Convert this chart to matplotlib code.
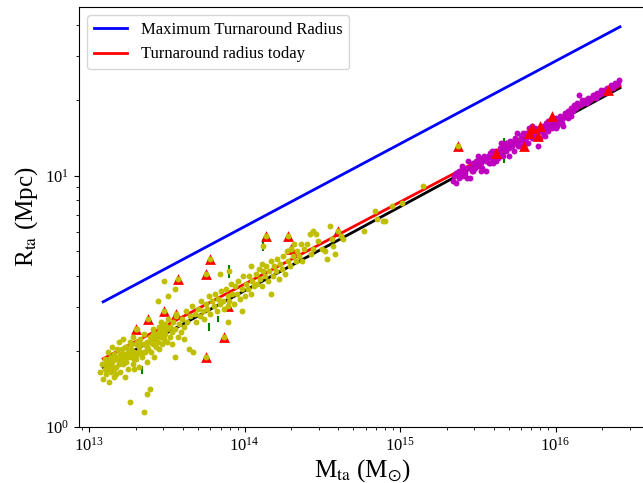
import numpy as np
import matplotlib
matplotlib.use("Agg")
from matplotlib import pyplot as plt

plt.rcParams["font.family"] = "serif"
plt.rcParams["font.serif"] = ["Liberation Serif", "DejaVu Serif"]
plt.rcParams["mathtext.fontset"] = "stix"

# model lines (straight in log-log, so two end points each)
line_mass = [1.23e13, 2.6e16]
r_max = [3.15, 39.2]
r_today = [1.87, 22.8]
r_fit = [1.73, 22.4]

# groups (yellow): log10 M_ta, log10 R_ta
group_logm = [
    13.07, 13.08, 13.09, 13.10, 13.10, 13.11, 13.12, 13.12, 13.13, 13.13, 13.14, 13.14,
    13.15, 13.15, 13.16, 13.16, 13.17, 13.17, 13.18, 13.18, 13.19, 13.19, 13.20, 13.20,
    13.21, 13.21, 13.22, 13.22, 13.23, 13.23, 13.24, 13.24, 13.25, 13.25, 13.26, 13.26,
    13.27, 13.27, 13.28, 13.28, 13.29, 13.29, 13.30, 13.30, 13.31, 13.31, 13.32, 13.32,
    13.33, 13.33, 13.35, 13.34, 13.35, 13.35, 13.37, 13.36, 13.37, 13.37, 13.38, 13.39,
    13.39,
    13.11, 13.13, 13.15, 13.17, 13.19, 13.21, 13.23, 13.25, 13.27, 13.29, 13.31, 13.33,
    13.35, 13.37, 13.39, 13.41, 13.43, 13.45, 13.47, 13.49, 13.12, 13.16, 13.20, 13.24,
    13.28, 13.32, 13.36, 13.40, 13.44, 13.48,
    13.40, 13.40, 13.41, 13.41, 13.42, 13.42, 13.43, 13.43, 13.44, 13.44, 13.45, 13.45,
    13.46, 13.46, 13.47, 13.47, 13.48, 13.48, 13.49, 13.49, 13.50, 13.50, 13.51, 13.51,
    13.52, 13.52, 13.53, 13.53, 13.54, 13.55, 13.55, 13.55, 13.56, 13.57, 13.58, 13.59,
    13.60, 13.61, 13.62, 13.63, 13.64, 13.65, 13.66, 13.67, 13.68, 13.69, 13.70, 13.61,
    13.71, 13.72, 13.73, 13.74, 13.75, 13.75, 13.76, 13.77, 13.78, 13.78, 13.79, 13.80,
    13.81, 13.82, 13.83, 13.84, 13.84, 13.85, 13.86, 13.87, 13.87, 13.88, 13.89, 13.89,
    13.90, 13.91, 13.92, 13.93, 13.94, 13.95, 13.96, 13.97, 13.98, 13.98, 13.99, 14.00,
    13.90, 14.01, 14.02, 14.03, 14.04, 14.04, 14.05, 14.06, 14.07, 14.08, 14.09, 14.10,
    14.11, 14.11, 14.12, 14.12, 14.13, 14.14, 14.14, 14.15, 14.16, 14.17, 14.17, 14.18,
    14.19, 14.20, 14.21, 14.22, 14.23, 14.24, 14.25, 14.26, 14.27, 14.28, 14.28, 14.29,
    14.30, 14.31, 14.32, 14.33, 14.34, 14.35, 14.36, 14.37, 14.38,
    14.42, 14.44, 14.46, 14.40, 14.43, 14.44, 14.47, 14.50, 14.52, 14.53, 14.55, 14.56,
    14.57, 14.58, 14.60, 14.62, 14.63, 14.77, 14.84, 14.85, 14.89, 14.90, 14.95, 15.01,
    15.15, 15.37, 13.30, 13.38, 13.56, 13.57, 13.89, 14.30, 13.48, 13.75,
]
group_logr = [
    0.22, 0.25, 0.19, 0.27, 0.23, 0.21, 0.26, 0.30, 0.24, 0.18, 0.28, 0.22,
    0.32, 0.26, 0.20, 0.29, 0.24, 0.21, 0.31, 0.27, 0.25, 0.34, 0.29, 0.22,
    0.27, 0.31, 0.25, 0.35, 0.28, 0.20, 0.32, 0.26, 0.30, 0.23, 0.10, 0.34,
    0.28, 0.31, 0.25, 0.36, 0.23, 0.30, 0.33, 0.27, 0.39, 0.29, 0.32, 0.24,
    0.35, 0.30, 0.06, 0.28, 0.33, 0.37, 0.13, 0.30, 0.26, 0.34, 0.31, 0.15,
    0.36,
    0.25, 0.27, 0.24, 0.27, 0.28, 0.29, 0.32, 0.28, 0.33, 0.27, 0.34, 0.33,
    0.30, 0.32, 0.34, 0.37, 0.35, 0.38, 0.40, 0.39, 0.23, 0.23, 0.26, 0.29,
    0.29, 0.30, 0.33, 0.34, 0.37, 0.38,
    0.36, 0.30, 0.33, 0.39, 0.35, 0.28, 0.37, 0.32, 0.50, 0.34, 0.40, 0.31,
    0.36, 0.42, 0.33, 0.38, 0.58, 0.35, 0.41, 0.37, 0.34, 0.39, 0.52, 0.43,
    0.36, 0.40, 0.38, 0.33, 0.42, 0.55, 0.28, 0.39, 0.44, 0.36, 0.41, 0.38,
    0.43, 0.40, 0.46, 0.42, 0.31, 0.44, 0.48, 0.30, 0.45, 0.42, 0.47, 0.35,
    0.44, 0.50, 0.46, 0.43, 0.61, 0.49, 0.47, 0.52, 0.67, 0.45, 0.50, 0.48,
    0.53, 0.46, 0.51, 0.61, 0.49, 0.54, 0.50, 0.36, 0.47, 0.55, 0.42, 0.52,
    0.50, 0.57, 0.53, 0.49, 0.56, 0.53, 0.58, 0.51, 0.46, 0.55, 0.60, 0.52,
    0.62, 0.57, 0.55, 0.60, 0.64, 0.53, 0.58, 0.56, 0.61, 0.57, 0.63, 0.59,
    0.65, 0.56, 0.62, 0.72, 0.60, 0.76, 0.64, 0.58, 0.62, 0.53, 0.66, 0.60,
    0.64, 0.62, 0.67, 0.59, 0.65, 0.63, 0.68, 0.61, 0.70, 0.76, 0.66, 0.64,
    0.71, 0.68, 0.73, 0.66, 0.70, 0.68, 0.73, 0.66, 0.71,
    0.77, 0.78, 0.77, 0.73, 0.69, 0.71, 0.74, 0.71, 0.70, 0.67, 0.80, 0.75,
    0.72, 0.69, 0.78, 0.76, 0.75, 0.78, 0.86, 0.83, 0.82, 0.82, 0.88, 0.89,
    0.96, 1.12, 0.39, 0.43, 0.45, 0.59, 0.48, 0.71, 0.46, 0.28,
]

# clusters (magenta)
cluster_logm = [
    15.34, 15.35, 15.36, 15.37, 15.38, 15.39, 15.40, 15.41, 15.42, 15.43, 15.44, 15.45,
    15.46, 15.47, 15.48, 15.49, 15.50, 15.51, 15.52, 15.53, 15.54, 15.55, 15.56, 15.57,
    15.58, 15.59, 15.60, 15.61, 15.62, 15.63, 15.64, 15.65, 15.66, 15.67, 15.68, 15.69,
    15.70, 15.71, 15.72, 15.73, 15.74, 15.75, 15.76, 15.77, 15.78, 15.79, 15.80, 15.81,
    15.82, 15.83, 15.84, 15.85, 15.86, 15.87, 15.88, 15.89, 15.90, 15.91, 15.92, 15.93,
    15.94, 15.95, 15.96, 15.97, 15.98, 15.99, 16.00, 16.01, 16.02, 16.03, 16.04, 16.05,
    16.06, 16.07, 16.08, 16.09, 16.10, 16.11, 16.12, 16.13, 16.15, 16.17, 16.14, 16.16,
    16.18, 16.19, 16.20, 16.21, 16.22, 16.24, 16.23, 16.25, 16.26, 16.27, 16.28, 16.29,
    16.30, 16.31, 16.32, 16.33, 16.34, 16.35, 16.36, 16.37, 16.38, 16.39, 16.40, 16.41,
    15.36, 15.40, 15.45, 15.50, 15.55, 15.60, 15.65, 15.70, 15.75, 15.80, 15.85, 15.90,
    15.95, 16.00, 16.05, 16.10, 15.52, 15.58, 15.63, 15.68, 15.73, 15.78, 15.83, 15.88,
    15.93, 15.98, 16.03, 16.08,
    15.38, 15.42, 15.47, 15.53, 15.57, 15.62, 15.66, 15.71, 15.76, 15.81, 15.86, 15.91,
    15.96, 16.01, 15.44, 15.49, 15.59, 15.64, 15.69, 15.74, 15.79, 15.84,
]
cluster_logr = [
    0.98, 1.00, 0.97, 1.01, 0.99, 1.02, 1.00, 1.03, 1.01, 0.99, 1.06, 1.03,
    1.02, 1.05, 1.03, 1.06, 1.04, 1.07, 1.05, 1.03, 1.08, 1.06, 1.07, 1.05,
    1.09, 1.07, 1.08, 1.10, 1.06, 1.09, 1.11, 1.10, 1.08, 1.12, 1.10, 1.13,
    1.11, 1.14, 1.12, 1.10, 1.15, 1.13, 1.14, 1.12, 1.16, 1.14, 1.15, 1.17,
    1.13, 1.16, 1.18, 1.15, 1.17, 1.19, 1.16, 1.12, 1.18, 1.20, 1.17, 1.19,
    1.21, 1.18, 1.20, 1.22, 1.19, 1.21, 1.23, 1.20, 1.22, 1.24, 1.21, 1.23,
    1.25, 1.24, 1.26, 1.25, 1.27, 1.26, 1.28, 1.27, 1.32, 1.30, 1.29, 1.28,
    1.29, 1.30, 1.29, 1.31, 1.30, 1.32, 1.31, 1.32, 1.31, 1.33, 1.32, 1.34,
    1.33, 1.34, 1.33, 1.35, 1.34, 1.35, 1.36, 1.35, 1.37, 1.36, 1.37, 1.38,
    1.01, 1.04, 0.99, 1.08, 1.02, 1.05, 1.13, 1.08, 1.17, 1.12, 1.20, 1.15,
    1.22, 1.19, 1.20, 1.24, 1.02, 1.05, 1.07, 1.13, 1.14, 1.12, 1.19, 1.18,
    1.16, 1.23, 1.21, 1.23,
    1.02, 1.00, 1.02, 1.07, 1.08, 1.08, 1.11, 1.12, 1.12, 1.15, 1.15, 1.19,
    1.19, 1.22, 1.03, 1.04, 1.10, 1.08, 1.11, 1.13, 1.17, 1.16,
]

# flagged objects (red triangles)
tri_logm = [13.30, 13.38, 13.48, 13.56, 13.89, 13.87, 13.75, 13.57, 13.75, 13.78,
            14.14, 14.28, 14.30, 14.60, 15.37,
            15.62, 15.80, 15.83, 15.85, 15.90, 15.89, 15.98, 16.34]
tri_logr = [0.39, 0.43, 0.46, 0.45, 0.48, 0.36, 0.28, 0.59, 0.61, 0.67,
            0.76, 0.76, 0.71, 0.78, 1.12,
            1.09, 1.12, 1.17, 1.19, 1.20, 1.16, 1.24, 1.34]

# objects with error bars (green)
err_logm = [13.90, 14.12, 15.67, 13.34, 13.42, 13.77, 13.83]
err_logr = [0.62, 0.725, 1.10, 0.227, 0.386, 0.398, 0.43]
err_dlogr = [0.025, 0.025, 0.05, 0.015, 0.01, 0.015, 0.01]

fig = plt.figure(figsize=(6.43, 4.83), dpi=100)
ax = fig.add_axes([79 / 643, 56 / 483, 567 / 643, 420 / 483])

ax.plot(line_mass, r_max, color="b", lw=2, label="Maximum Turnaround Radius", zorder=1)
ax.plot(line_mass, r_fit, color="k", lw=2, zorder=1)
ax.plot(line_mass, r_today, color="r", lw=2, label="Turnaround radius today", zorder=1)

em = 10 ** np.array(err_logm)
er = 10 ** np.array(err_logr)
ed = np.array(err_dlogr)
ax.errorbar(em, er, yerr=[er - er / 10 ** ed, er * 10 ** ed - er], fmt="none",
            ecolor="g", elinewidth=1.5, zorder=2)

ax.scatter(10 ** np.array(cluster_logm), 10 ** np.array(cluster_logr), s=18,
           color="m", linewidths=0, zorder=3)
ax.scatter(10 ** np.array(tri_logm), 10 ** np.array(tri_logr), s=60, marker="^",
           color="r", linewidths=0, zorder=4)
ax.scatter(10 ** np.array(group_logm), 10 ** np.array(group_logr), s=18,
           color="y", linewidths=0, zorder=5)

ax.set_xscale("log")
ax.set_yscale("log")
ax.set_xlim(8.6e12, 3.82e16)
ax.set_ylim(1.0, 47)
ax.tick_params(labelsize=12)
ax.set_xlabel(r"M$_{\rm ta}$ (M$_{\odot}$)", fontsize=18, labelpad=2)
ax.set_ylabel(r"R$_{\rm ta}$ (Mpc)", fontsize=18)
ax.legend(loc="upper left", fontsize=12)

fig.savefig("out.png", dpi=100)
